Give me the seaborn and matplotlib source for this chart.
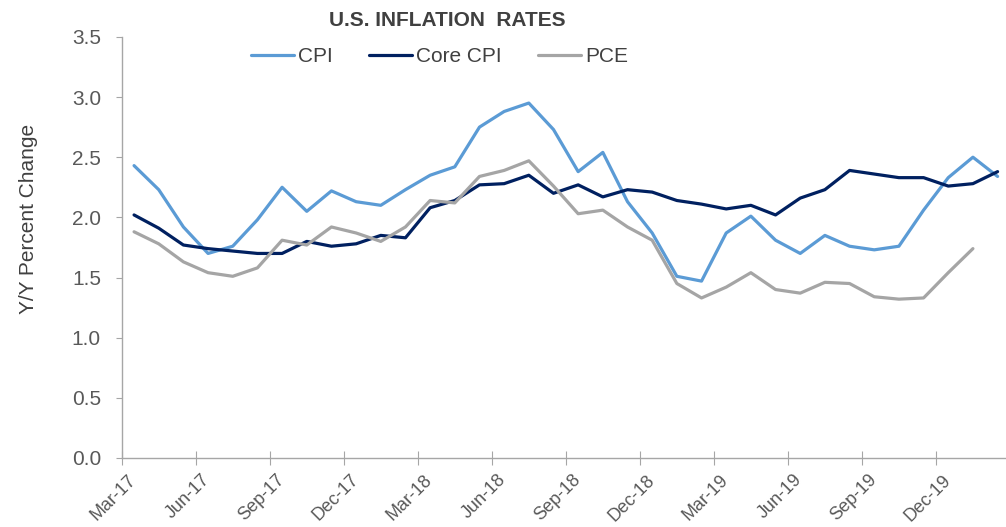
"""U.S. inflation rates chart"""
import numpy as np
import pandas as pd
import matplotlib
matplotlib.use("Agg")
import matplotlib.pyplot as plt
import matplotlib.transforms as mtransforms
import seaborn as sns

sns.set_style("white")
plt.rcParams['font.family'] = ['Liberation Sans', 'DejaVu Sans']

# Monthly values, Mar-17 onward
cpi = [2.43, 2.23, 1.92, 1.70, 1.76, 1.98, 2.25, 2.05, 2.22, 2.13, 2.10, 2.23,
       2.35, 2.42, 2.75, 2.88, 2.95, 2.73, 2.38, 2.54, 2.13, 1.87, 1.51, 1.47,
       1.87, 2.01, 1.81, 1.70, 1.85, 1.76, 1.73, 1.76, 2.06, 2.33, 2.50, 2.34]
core_cpi = [2.02, 1.91, 1.77, 1.74, 1.72, 1.70, 1.70, 1.80, 1.76, 1.78, 1.85, 1.83,
            2.08, 2.14, 2.27, 2.28, 2.35, 2.20, 2.27, 2.17, 2.23, 2.21, 2.14, 2.11,
            2.07, 2.10, 2.02, 2.16, 2.23, 2.39, 2.36, 2.33, 2.33, 2.26, 2.28, 2.38]
pce = [1.88, 1.78, 1.63, 1.54, 1.51, 1.58, 1.81, 1.77, 1.92, 1.87, 1.80, 1.92,
       2.14, 2.12, 2.34, 2.39, 2.47, 2.26, 2.03, 2.06, 1.92, 1.81, 1.45, 1.33,
       1.42, 1.54, 1.40, 1.37, 1.46, 1.45, 1.34, 1.32, 1.33, 1.54, 1.74]

tick_labels = ['Mar-17', 'Jun-17', 'Sep-17', 'Dec-17', 'Mar-18', 'Jun-18',
               'Sep-18', 'Dec-18', 'Mar-19', 'Jun-19', 'Sep-19', 'Dec-19']

colors = {'CPI': '#5B9BD5', 'Core CPI': '#002060', 'PCE': '#A5A5A5'}

# long-form table; points sit mid-month
rows = []
for name, vals in [('CPI', cpi), ('Core CPI', core_cpi), ('PCE', pce)]:
    for i, v in enumerate(vals):
        rows.append({'month': i + 0.5, 'value': v, 'series': name})
df = pd.DataFrame(rows)

fig = plt.figure(figsize=(10.06, 5.27), dpi=100)
ax = fig.add_axes([0.121, 0.131, 0.878, 0.799])

sns.lineplot(data=df, x='month', y='value', hue='series', palette=colors,
             linewidth=2.3, ax=ax, legend=True, sort=False)
for ln in ax.get_lines():
    ln.set_solid_joinstyle('round')
    ln.set_solid_capstyle('round')

ax.set_xlim(0, 35.8)
ax.set_ylim(0, 3.5)
ax.set_yticks(np.arange(0, 3.51, 0.5))
ax.set_yticklabels([f'{v:.1f}' for v in np.arange(0, 3.51, 0.5)])
ax.set_xticks(np.arange(0, 3 * len(tick_labels), 3))
ax.set_xticklabels(tick_labels, rotation=45, ha='right', va='center',
                   rotation_mode='anchor')

ax.set_xlabel('')
ax.set_ylabel('Y/Y Percent Change', fontsize=15, color='#404040')
ax.yaxis.set_label_coords(-0.095, 0.568)

for s in ['top', 'right']:
    ax.spines[s].set_visible(False)
for s in ['left', 'bottom']:
    ax.spines[s].set_color('#A6A6A6')
    ax.spines[s].set_linewidth(1.0)

ax.tick_params(axis='y', direction='out', length=4, color='#A6A6A6',
               labelsize=15, labelcolor='#595959', pad=11, left=True)
ax.tick_params(axis='x', direction='inout', length=10, color='#A6A6A6',
               labelsize=13, labelcolor='#595959', pad=9, bottom=True)

# nudge rotated date labels so their ends sit just right of the ticks
shift = mtransforms.ScaledTranslation(0.12, 0, fig.dpi_scale_trans)
for lbl in ax.get_xticklabels():
    lbl.set_transform(lbl.get_transform() + shift)

fig.text(0.445, 0.962, 'U.S. INFLATION  RATES', ha='center', va='center',
         fontsize=15, fontweight='bold', color='#404040')

leg = ax.legend(loc='center', bbox_to_anchor=(0.36, 0.9525), ncol=3, frameon=False,
                fontsize=15, handlelength=2.07, handletextpad=0.2, columnspacing=1.73)
for t in leg.get_texts():
    t.set_color('#404040')

fig.savefig('out.png', dpi=100)
